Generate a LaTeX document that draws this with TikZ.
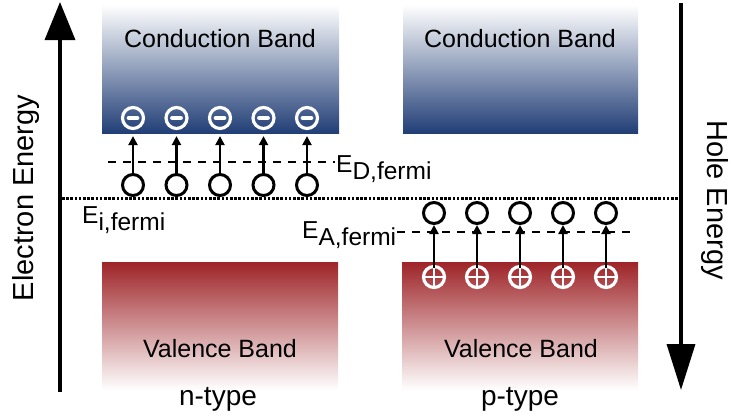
\documentclass[tikz,border=0pt]{standalone}
\usepackage{fontspec}
\setmainfont{Liberation Sans}
\usetikzlibrary{arrows.meta}
\definecolor{cbblue}{RGB}{33,62,118}
\definecolor{vbred}{RGB}{158,36,40}
\begin{document}
\begin{tikzpicture}[x=1pt,y=-1pt,
  lbl/.style={font=\fontsize{25}{30}\selectfont, inner sep=0pt},
  typl/.style={font=\fontsize{28}{32}\selectfont, inner sep=0pt},
  axl/.style={font=\fontsize{29}{34}\selectfont, inner sep=0pt},
  elab/.style={font=\fontsize{24.5}{30}\selectfont, inner sep=0pt, anchor=base west},
  ecirc/.style={circle, draw=white, line width=3.2pt, minimum size=21pt, inner sep=0pt,
    path picture={\draw[white,line width=4.8pt,line cap=round]
      ([xshift=-4pt]path picture bounding box.center) -- ([xshift=4pt]path picture bounding box.center);}},
  hcirc/.style={circle, draw=white, line width=3.2pt, minimum size=21pt, inner sep=0pt,
    path picture={\draw[white,line width=2.8pt]
      ([xshift=-11pt]path picture bounding box.center) -- ([xshift=11pt]path picture bounding box.center)
      ([yshift=-11pt]path picture bounding box.center) -- ([yshift=11pt]path picture bounding box.center);}},
  ocirc/.style={circle, draw=black, line width=3pt, minimum size=21pt, inner sep=0pt},
  sarr/.style={line width=2.2pt, -{Triangle[length=9pt,width=9pt]}},
  fermidash/.style={line width=2.4pt, dash pattern=on 8pt off 7pt},
  fermidot/.style={line width=3pt, dash pattern=on 2.6pt off 1.6pt},
  bigarr/.style={line width=3.5pt}
]
\useasboundingbox (0,0) rectangle (732,416);

% bands
\fill[top color=white, bottom color=cbblue] (102,5) rectangle (339,133);
\fill[top color=white, bottom color=cbblue] (403,5) rectangle (638,133);
\fill[top color=vbred, bottom color=white] (102,262) rectangle (338,390);
\fill[top color=vbred, bottom color=white] (402,262) rectangle (638,390);

\node[lbl, anchor=base] (cbl) at (220,47) {Conduction Band};
\node[lbl, anchor=base] (cbr) at (520,47) {Conduction Band};
\node[lbl, anchor=base] (vbl) at (220,357) {Valence Band};
\node[lbl, anchor=base] (vbr) at (521,357) {Valence Band};
\node[typl, anchor=base] (nt) at (218,405) {n-type};
\node[typl, anchor=base] (pt) at (520,405) {p-type};

% axes
\coordinate (lb) at (60,392);
\coordinate (lt) at (60,2);
\coordinate (rt) at (681,3);
\coordinate (rb) at (681,390);
\draw[bigarr, -{Triangle[length=38pt,width=30pt]}] (lb) -- (lt);
\draw[bigarr, -{Triangle[length=46pt,width=28pt]}] (rt) -- (rb);
\node[axl, rotate=90, anchor=base] (ee) at (33,198) {Electron Energy};
\node[axl, rotate=-90, anchor=base] (he) at (707,200) {Hole Energy};

% intrinsic fermi level
\coordinate (il) at (62,198);
\coordinate (ir) at (680,198);
\draw[fermidot] (il) -- (ir);
\node[elab] (ei) at (82,223) {E\raisebox{-7pt}{i,fermi}};

% donor level
\coordinate (dl) at (108,162);
\coordinate (dr) at (335,162);
\draw[fermidash] (dl) -- (dr);
\node[elab] (ed) at (336,172) {E\raisebox{-7pt}{D,fermi}};

% acceptor level
\coordinate (al) at (397,232);
\coordinate (ar) at (633,232);
\draw[fermidash] (al) -- (ar);
\node[elab] (ea) at (302,238) {E\raisebox{-7pt}{A,fermi}};

% n-type
\foreach \i/\x in {1/133,2/176.5,3/220,4/263.5,5/307}{
  \node[ecirc] (m\i) at (\x,118) {};
  \node[ocirc] (d\i) at (\x,185) {};
  \draw[sarr, shorten >=6pt] (d\i.north) -- (m\i.south);
}
% p-type
\foreach \i/\x in {1/434,2/477,3/520,4/563,5/606}{
  \node[hcirc] (p\i) at (\x,277) {};
  \node[ocirc] (a\i) at (\x,213) {};
  \draw[sarr, shorten <=-3pt] (p\i.north) -- (a\i.south);
}
\end{tikzpicture}
\end{document}
